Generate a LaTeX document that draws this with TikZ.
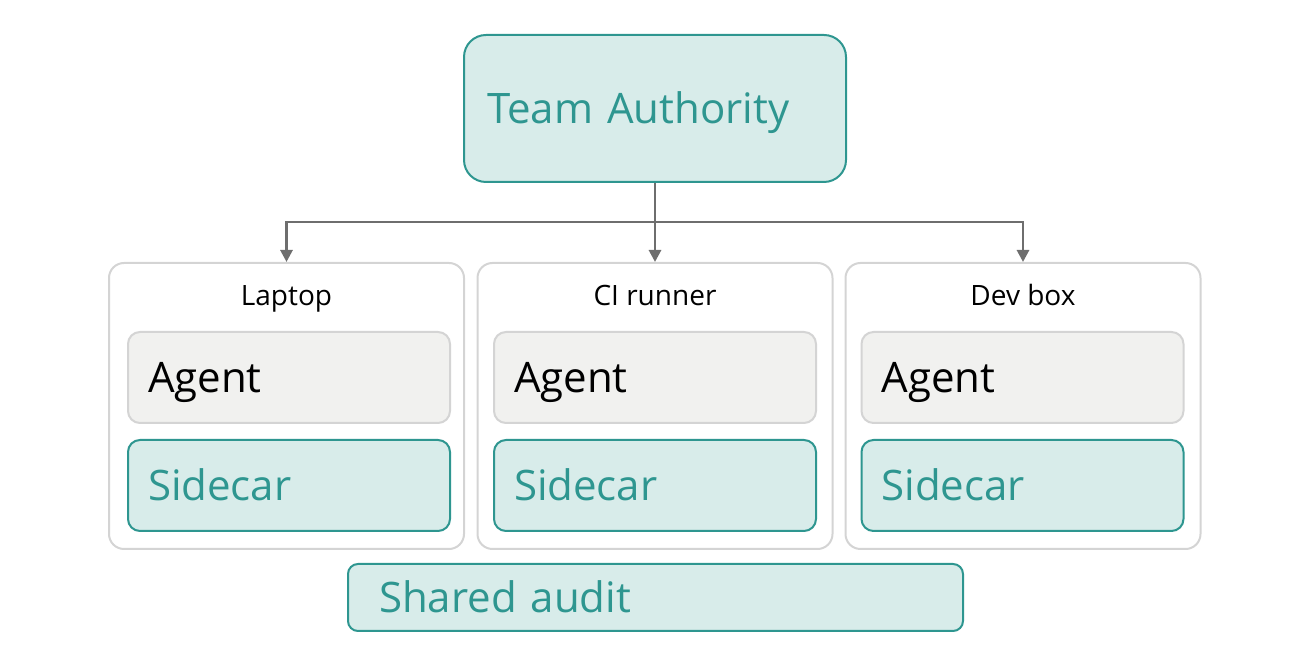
\documentclass[tikz,border=0pt]{standalone}
\usepackage{fontspec}
\setmainfont{Open Sans}
\usetikzlibrary{positioning, arrows.meta}

\definecolor{tealline}{HTML}{2E9690}
\definecolor{tealfill}{HTML}{D8ECEA}
\definecolor{hostline}{HTML}{D4D4D4}
\definecolor{agentfill}{HTML}{F1F1EF}
\definecolor{wiregray}{HTML}{6E6E6E}

\tikzset{
  tealbox/.style={draw=tealline, fill=tealfill, line width=1pt, text=tealline,
    font=\fontsize{21pt}{24pt}\selectfont, text height=15.5pt, text depth=0pt, align=left},
  agentbox/.style={draw=hostline, fill=agentfill, line width=1pt, text=black,
    rounded corners=6pt, font=\fontsize{21pt}{24pt}\selectfont,
    text height=15.5pt, text depth=0pt, align=left,
    minimum width=161pt, minimum height=45.5pt, inner xsep=10pt, text width=141pt},
  sidecarbox/.style={tealbox, rounded corners=6pt,
    minimum width=161pt, minimum height=45.5pt, inner xsep=10pt, text width=141pt},
  hostbox/.style={draw=hostline, fill=white, line width=1pt, rounded corners=7.5pt,
    minimum width=177.5pt, minimum height=143pt},
  hostlabel/.style={font=\fontsize{14pt}{16pt}\selectfont, text height=10.5pt, text depth=0pt},
  wire/.style={draw=wiregray, line width=1.4pt},
  feed/.style={wire, -{Triangle[width=6pt,length=6pt]}}
}

\begin{document}
\begin{tikzpicture}[x=0.5pt, y=-0.5pt]
    \useasboundingbox (0,0) rectangle (1301,672);

    % Authority at the top
    \node[tealbox, rounded corners=11pt, minimum width=191pt, minimum height=73.5pt,
          inner xsep=11.5pt, text width=168pt] (authority) at (655,108.5) {Team Authority};

    % Three hosts
    \node[hostbox] (laptop) at (286.5,406) {};
    \node[hostbox] (runner) at (655,406) {};
    \node[hostbox] (devbox) at (1023,406) {};

    \node[hostlabel] (laptoplbl) at (286.5,295) {Laptop};
    \node[hostlabel] (runnerlbl) at (655,295) {CI runner};
    \node[hostlabel] (devboxlbl) at (1023,295) {Dev box};

    % Agent and sidecar inside each host
    \node[agentbox] (agent1) at (289,377.5) {Agent};
    \node[agentbox] (agent2) at (655,377.5) {Agent};
    \node[agentbox] (agent3) at (1022.5,377.5) {Agent};

    \node[sidecarbox] (sidecar1) at (289,485.5) {Sidecar};
    \node[sidecarbox] (sidecar2) at (655,485.5) {Sidecar};
    \node[sidecarbox] (sidecar3) at (1022.5,485.5) {Sidecar};

    % Shared audit strip below
    \node[tealbox, rounded corners=5pt, minimum width=307.5pt, minimum height=33.5pt,
          inner xsep=15.5pt, text width=276.5pt] (audit) at (655.5,597.5) {Shared audit};

    % Fan-out from the authority
    \coordinate (split) at (655,222);
    \draw[wire] (authority.south) -- (split);
    \draw[feed] (split) -| (laptop.north);
    \draw[feed] (split) -- (runner.north);
    \draw[feed] (split) -| (devbox.north);

\end{tikzpicture}
\end{document}
